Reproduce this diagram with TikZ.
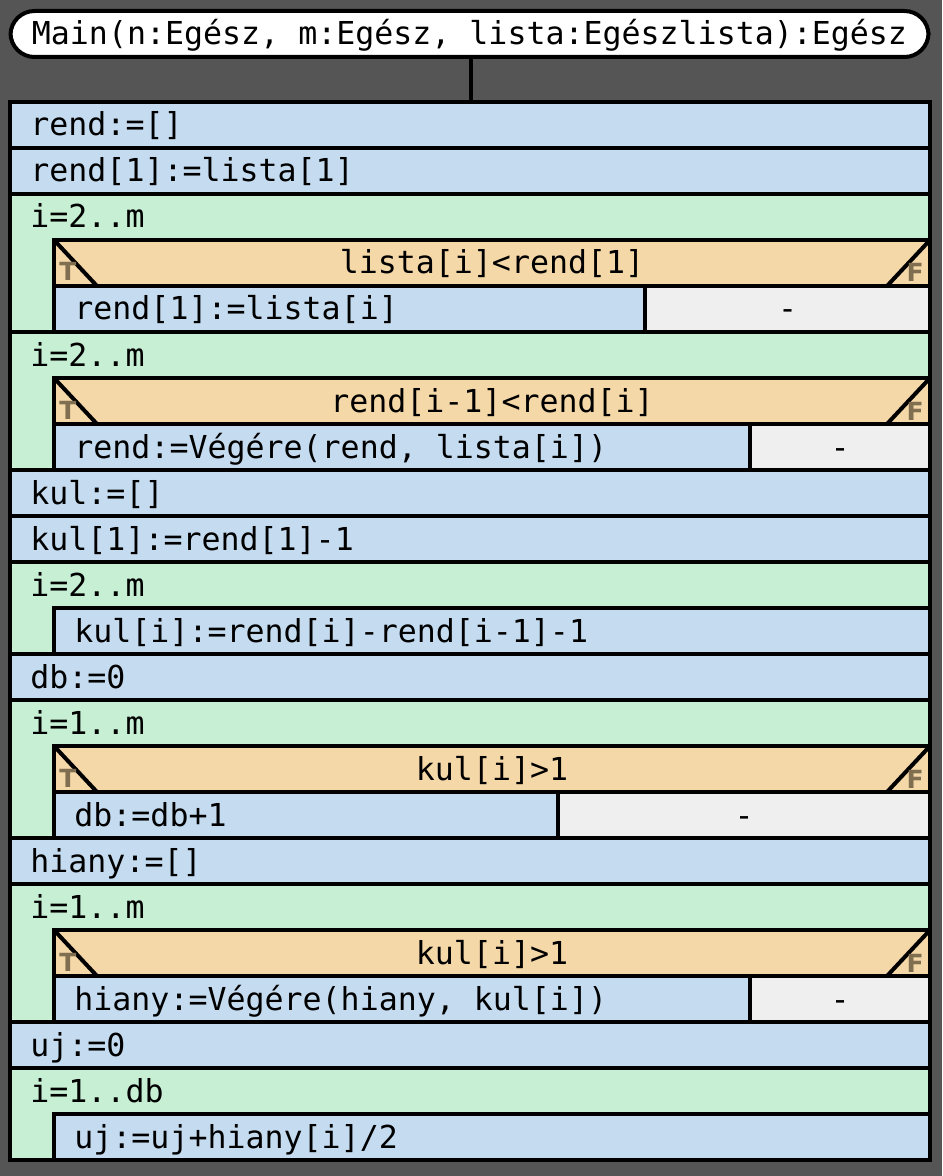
\documentclass[tikz,border=0pt]{standalone}
\usepackage{fontspec}
\newfontfamily\codefont{DejaVu Sans Mono}
\newfontfamily\markfont{DejaVu Sans}
\usetikzlibrary{positioning}
\definecolor{bggray}{RGB}{85,85,85}
\definecolor{stmtblue}{RGB}{197,220,240}
\definecolor{loopgreen}{RGB}{198,239,212}
\definecolor{condorange}{RGB}{245,216,168}
\definecolor{skipgray}{RGB}{239,239,239}
\definecolor{markbrown}{RGB}{128,110,80}

\begin{document}
\begin{tikzpicture}[
	x=0.5pt, y=-0.5pt,
	  frame/.style = {draw=black, line width=2pt},
	   stmt/.style = {frame, fill=stmtblue},
	forbox/.style = {frame, fill=loopgreen},
	   cond/.style = {frame, fill=condorange},
	 skipbox/.style = {frame, fill=skipgray},
	   code/.style = {inner sep=0pt, anchor=base west,
									 font=\codefont\fontsize{15.8}{19}\selectfont},
	  ccode/.style = {code, anchor=base},
	 tfmark/.style = {inner sep=0pt, text=markbrown,
									 font=\markfont\bfseries\fontsize{12.5}{14}\selectfont},
	  title/.style = {frame, fill=white, rounded corners=12pt,
									 minimum width=459pt, minimum height=23pt,
									 text height=13pt, text depth=2pt, inner sep=0pt,
									 font=\codefont\fontsize{15.8}{19}\selectfont}]

\fill[bggray] (0,0) rectangle (942,1176);

% header and connector
\node[title] (main) at (469.5,34) {Main(n:Egész, m:Egész, lista:Egészlista):Egész};
\coordinate (top) at (471,102);
\draw[frame] (main.south -| top) -- (top);

% simple statements
\draw[stmt] (10,102) rectangle (930,148);
\node[code] (s1) at (30,136) {rend:=[]};
\draw[stmt] (10,148) rectangle (930,194);
\node[code] (s2) at (30,182) {rend[1]:=lista[1]};

% loop 1
\draw[forbox] (10,194) rectangle (930,332);
\node[code] (f1) at (30,228) {i=2..m};
\draw[cond] (54,240) rectangle (930,286);
\draw[frame] (54,240) -- (97,286) (930,240) -- (887,286);
\node[ccode] (c1) at (492,274) {lista[i]<rend[1]};
\node[tfmark, anchor=base west] (t1) at (59,281) {T};
\node[tfmark, anchor=base east] (e1) at (924,282) {F};
\draw[stmt] (54,286) rectangle (645,332);
\draw[skipbox] (645,286) rectangle (930,332);
\node[code] (y1) at (74,320) {rend[1]:=lista[i]};
\node[ccode] (n1) at (787.5,320) {-};

% loop 2
\draw[forbox] (10,332) rectangle (930,470);
\node[code] (f2) at (30,366) {i=2..m};
\draw[cond] (54,378) rectangle (930,424);
\draw[frame] (54,378) -- (97,424) (930,378) -- (887,424);
\node[ccode] (c2) at (492,412) {rend[i-1]<rend[i]};
\node[tfmark, anchor=base west] (t2) at (59,419) {T};
\node[tfmark, anchor=base east] (e2) at (924,420) {F};
\draw[stmt] (54,424) rectangle (750,470);
\draw[skipbox] (750,424) rectangle (930,470);
\node[code] (y2) at (74,458) {rend:=Végére(rend, lista[i])};
\node[ccode] (n2) at (840,458) {-};

% simple statements
\draw[stmt] (10,470) rectangle (930,516);
\node[code] (s3) at (30,504) {kul:=[]};
\draw[stmt] (10,516) rectangle (930,562);
\node[code] (s4) at (30,550) {kul[1]:=rend[1]-1};

% loop 3
\draw[forbox] (10,562) rectangle (930,654);
\node[code] (f3) at (30,596) {i=2..m};
\draw[stmt] (54,608) rectangle (930,654);
\node[code] (b3) at (74,642) {kul[i]:=rend[i]-rend[i-1]-1};

\draw[stmt] (10,654) rectangle (930,700);
\node[code] (s5) at (30,688) {db:=0};

% loop 4
\draw[forbox] (10,700) rectangle (930,838);
\node[code] (f4) at (30,734) {i=1..m};
\draw[cond] (54,746) rectangle (930,792);
\draw[frame] (54,746) -- (97,792) (930,746) -- (887,792);
\node[ccode] (c4) at (492,780) {kul[i]>1};
\node[tfmark, anchor=base west] (t4) at (59,787) {T};
\node[tfmark, anchor=base east] (e4) at (924,788) {F};
\draw[stmt] (54,792) rectangle (558,838);
\draw[skipbox] (558,792) rectangle (930,838);
\node[code] (y4) at (74,826) {db:=db+1};
\node[ccode] (n4) at (744,826) {-};

\draw[stmt] (10,838) rectangle (930,884);
\node[code] (s6) at (30,872) {hiany:=[]};

% loop 5
\draw[forbox] (10,884) rectangle (930,1022);
\node[code] (f5) at (30,918) {i=1..m};
\draw[cond] (54,930) rectangle (930,976);
\draw[frame] (54,930) -- (97,976) (930,930) -- (887,976);
\node[ccode] (c5) at (492,964) {kul[i]>1};
\node[tfmark, anchor=base west] (t5) at (59,971) {T};
\node[tfmark, anchor=base east] (e5) at (924,972) {F};
\draw[stmt] (54,976) rectangle (750,1022);
\draw[skipbox] (750,976) rectangle (930,1022);
\node[code] (y5) at (74,1010) {hiany:=Végére(hiany, kul[i])};
\node[ccode] (n5) at (840,1010) {-};

\draw[stmt] (10,1022) rectangle (930,1068);
\node[code] (s7) at (30,1056) {uj:=0};

% loop 6
\draw[forbox] (10,1068) rectangle (930,1160);
\node[code] (f6) at (30,1102) {i=1..db};
\draw[stmt] (54,1114) rectangle (930,1160);
\node[code] (b6) at (74,1148) {uj:=uj+hiany[i]/2};
\end{tikzpicture}
\end{document}
